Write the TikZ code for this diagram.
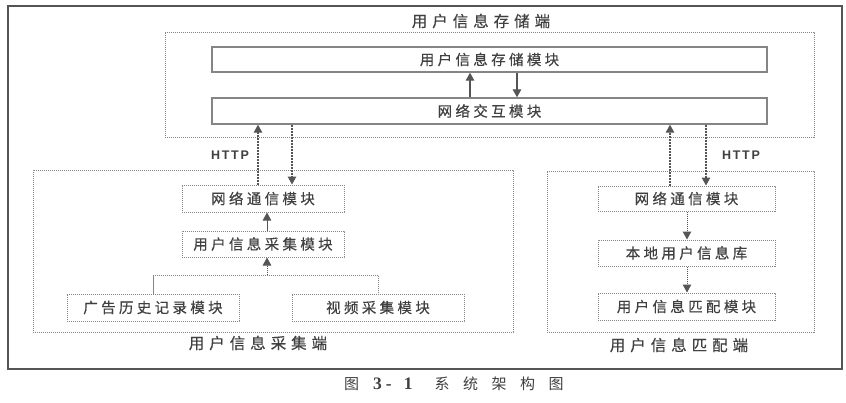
\documentclass[tikz,border=0pt]{standalone}
\usepackage{fontspec}
\setmainfont{Liberation Sans}
\newfontfamily\cjk[LetterSpace=23,FakeBold=0.4]{Noto Sans CJK SC}
\newfontfamily\cjklab[LetterSpace=32,FakeBold=0.4]{Noto Sans CJK SC}
\newfontfamily\cjkcap[LetterSpace=90]{Noto Sans CJK SC}
\newfontfamily\capdigits{Liberation Serif Bold}
\newfontfamily\httpfont[LetterSpace=14]{Liberation Sans Bold}
\usetikzlibrary{arrows.meta}
\definecolor{ln}{HTML}{858585}
\definecolor{tx}{HTML}{404040}
\definecolor{frame}{HTML}{555555}
\tikzset{
  dotbox/.style={draw=ln, line width=1pt, dash pattern=on 1.2pt off 0.8pt, inner sep=0pt, text=tx, font=\cjk\fontsize{14.5}{16}\selectfont},
  solidbox/.style={draw=ln, line width=1.4pt, inner sep=0pt, text=tx, font=\cjk\fontsize{14.5}{16}\selectfont},
  container/.style={draw=ln, line width=1pt, dash pattern=on 1.2pt off 0.8pt, inner sep=0pt},
  grouplabel/.style={text=tx, font=\cjklab\fontsize{15.5}{17}\selectfont, inner sep=0pt},
  httplabel/.style={text=tx, font=\httpfont\fontsize{12.5}{14}\selectfont, inner sep=0pt},
  tip/.style={-{Triangle[width=8.5pt,length=8pt]}},
  solidarrow/.style={tip, draw=frame, line width=1.3pt, color=frame},
  dasharrow/.style={tip, draw=ln, line width=1.3pt, dash pattern=on 2pt off 1pt, color=frame},
  dotarrow/.style={tip, draw=ln, line width=1pt, dash pattern=on 1.2pt off 0.8pt, color=frame},
  dotline/.style={draw=ln, line width=1pt, dash pattern=on 1.2pt off 0.8pt},
}
\begin{document}
\begin{tikzpicture}[x=1pt,y=-1pt]
\useasboundingbox (0,0) rectangle (846,402);
\fill[white] (0,0) rectangle (846,402);
% outer frame
\node[draw=frame, line width=1.6pt, minimum width=834pt, minimum height=363pt, inner sep=0pt] (frame) at (425,187.5) {};
% storage side
\node[container, minimum width=649pt, minimum height=105pt] (store) at (489.5,84.5) {};
\node[grouplabel] (storelab) at (481,21) {用户信息存储端};
\node[solidbox, minimum width=555pt, minimum height=25pt] (storemod) at (489.5,59.5) {用户信息存储模块};
\node[solidbox, minimum width=555pt, minimum height=26pt] (netint) at (489.5,111) {网络交互模块};
% collection side
\node[container, minimum width=480pt, minimum height=162pt] (collect) at (273,251) {};
\node[grouplabel] (collectlab) at (258,343) {用户信息采集端};
\node[dotbox, minimum width=162pt, minimum height=27pt] (lnet) at (263,198.5) {网络通信模块};
\node[dotbox, minimum width=162pt, minimum height=26pt] (lcol) at (263,244) {用户信息采集模块};
\node[dotbox, minimum width=172pt, minimum height=27pt] (ad) at (153,307.5) {广告历史记录模块};
\node[dotbox, minimum width=172pt, minimum height=27pt] (video) at (378,307.5) {视频采集模块};
\coordinate (junc) at (267,275);
% matching side
\node[container, minimum width=267pt, minimum height=161pt] (match) at (680.5,251.5) {};
\node[grouplabel] (matchlab) at (679,345) {用户信息匹配端};
\node[dotbox, minimum width=177pt, minimum height=25pt] (rnet) at (686.5,198.5) {网络通信模块};
\node[dotbox, minimum width=177pt, minimum height=26pt] (local) at (686.5,253) {本地用户信息库};
\node[dotbox, minimum width=177pt, minimum height=27pt] (matchmod) at (686.5,306.5) {用户信息匹配模块};
% HTTP labels
\node[httplabel] (httpl) at (230,155) {HTTP};
\node[httplabel] (httpr) at (741,155) {HTTP};
% caption
\node[text=tx, inner sep=0pt, anchor=base west] (caption) at (344,389)
  {\fontsize{15}{17}\selectfont\cjkcap 图\hspace{14pt}{\capdigits\fontsize{17.5}{19}\selectfont 3\hspace{4pt}-\hspace{12pt}1}\hspace{22pt}\cjkcap 系统架构图};
% arrows: storage internal
\draw[solidarrow] (netint.north -| 470,0) -- (storemod.south -| 470,0);
\draw[solidarrow] (storemod.south -| 517,0) -- (netint.north -| 517,0);
% HTTP left
\draw[dasharrow] (lnet.north -| 258,0) -- (netint.south -| 258,0);
\draw[dasharrow] (netint.south -| 292,0) -- (lnet.north -| 292,0);
% HTTP right
\draw[dasharrow] (rnet.north -| 670,0) -- (netint.south -| 670,0);
\draw[dasharrow] (netint.south -| 706,0) -- (rnet.north -| 706,0);
% collection internal
\draw[dotarrow] (lcol.north -| 267,0) -- (lnet.south -| 267,0);
\draw[dotarrow] (junc) -- (lcol.south -| junc);
\draw[dotline] (ad.north) |- (junc) -| (video.north);
% matching internal
\draw[dotarrow] (rnet.south -| 687,0) -- (local.north -| 687,0);
\draw[dotarrow] (local.south -| 687,0) -- (matchmod.north -| 687,0);
\end{tikzpicture}
\end{document}
